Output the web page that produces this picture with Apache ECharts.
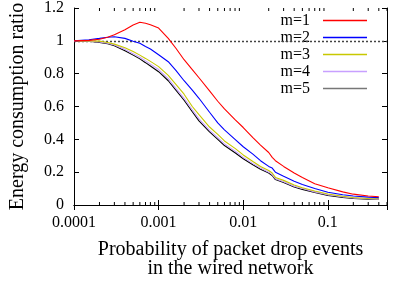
<!DOCTYPE html>
<html>
<head>
<meta charset="utf-8">
<script src="https://cdn.jsdelivr.net/npm/echarts@6/dist/echarts.min.js"></script>
<style>
	html, body { margin: 0; padding: 0; background: #fff; }
	#chart { width: 403px; height: 282px; }
</style>
</head>
<body>
<div id="chart"></div>
<script>
// drop probability (x)
var probs = [0.0001, 0.00015, 0.0002, 0.00025, 0.0003, 0.0004, 0.0005, 0.0006, 0.0007, 0.0008,
	0.001, 0.0013, 0.0016, 0.002, 0.0025, 0.003, 0.004, 0.005, 0.006, 0.008,
	0.01, 0.013, 0.016, 0.02, 0.022, 0.024, 0.03, 0.04, 0.05, 0.07,
	0.1, 0.15, 0.2, 0.3, 0.4];

var m1 = [1.0, 1.003, 1.01, 1.022, 1.037, 1.068, 1.097, 1.113, 1.107, 1.098,
	1.078, 1.015, 0.955, 0.885, 0.825, 0.775, 0.695, 0.632, 0.585, 0.52,
	0.472, 0.41, 0.365, 0.32, 0.29, 0.27, 0.235, 0.195, 0.168, 0.13,
	0.105, 0.08, 0.066, 0.055, 0.05];
var m2 = [1.0, 1.007, 1.015, 1.022, 1.025, 1.015, 0.998, 0.985, 0.965, 0.95,
	0.915, 0.873, 0.82, 0.757, 0.7, 0.65, 0.565, 0.5, 0.458, 0.4,
	0.355, 0.31, 0.27, 0.235, 0.225, 0.2, 0.175, 0.145, 0.125, 0.1,
	0.078, 0.062, 0.055, 0.048, 0.045];
var m3 = [1.0, 1.0, 0.998, 0.99, 0.98, 0.958, 0.935, 0.913, 0.893, 0.875,
	0.843, 0.79, 0.735, 0.675, 0.6, 0.55, 0.475, 0.43, 0.39, 0.345,
	0.305, 0.265, 0.235, 0.21, 0.195, 0.168, 0.15, 0.122, 0.105, 0.085,
	0.067, 0.053, 0.046, 0.04, 0.038];
var m4 = [1.0, 0.998, 0.993, 0.985, 0.975, 0.948, 0.922, 0.9, 0.878, 0.858,
	0.825, 0.77, 0.71, 0.65, 0.58, 0.525, 0.455, 0.41, 0.372, 0.328,
	0.29, 0.252, 0.225, 0.2, 0.185, 0.16, 0.142, 0.115, 0.1, 0.08,
	0.062, 0.05, 0.043, 0.038, 0.036];
var m5 = [1.0, 0.997, 0.99, 0.982, 0.97, 0.94, 0.913, 0.89, 0.867, 0.847,
	0.812, 0.757, 0.7, 0.638, 0.568, 0.512, 0.445, 0.4, 0.362, 0.318,
	0.282, 0.245, 0.218, 0.195, 0.18, 0.155, 0.137, 0.11, 0.095, 0.077,
	0.058, 0.046, 0.04, 0.036, 0.035];

var names = ['m=1', 'm=2', 'm=3', 'm=4', 'm=5'];
var colors = ['#ff0000', '#0000ff', '#c8c800', '#c8a0ff', '#000000'];
var legendColors = ['#ff0000', '#0000ff', '#c8c800', '#c8a0ff', '#777777'];

// minor ticks 2..9 x 10^k for the log axis
var minorTicks = [];
[0.0001, 0.001, 0.01, 0.1].forEach(function(d) {
	for (var k = 2; k <= 9; k++) {
		if (d * k <= 0.5) minorTicks.push(Number((d * k).toPrecision(3)));
	}
});

var font = 'Liberation Serif';

var main = {
	init: function() {
		var myChart = echarts.init(document.getElementById('chart'));
		var allData = [m1, m2, m3, m4, m5];

		var series = names.map(function(n, i) {
			return {
				name: n,
				type: 'line',
				symbol: 'none',
				lineStyle: { width: 1.1, color: colors[i] },
				itemStyle: { color: colors[i] },
				z: 10 - i,
				data: probs.map(function(p, j) { return [p, allData[i][j]]; })
			};
		});
		// dotted reference line at ratio 1
		series[0].markLine = {
			silent: true,
			symbol: 'none',
			label: { show: false },
			lineStyle: { color: '#444', type: [2, 2], width: 1.3 },
			data: [{ yAxis: 1 }]
		};
		// minor ticks (bottom + top)
		series.push({
			type: 'custom',
			silent: true,
			z: 20,
			renderItem: function(params, api) {
				var b = api.coord([api.value(0), 0]);
				var t = api.coord([api.value(0), 1.2]);
				var st = { stroke: '#000', lineWidth: 1 };
				return {
					type: 'group',
					children: [
						{ type: 'line', shape: { x1: b[0], y1: b[1], x2: b[0], y2: b[1] - 3 }, style: st },
						{ type: 'line', shape: { x1: t[0], y1: t[1], x2: t[0], y2: t[1] + 3 }, style: st }
					]
				};
			},
			data: minorTicks.map(function(v) { return [v]; })
		});

		var option = {
			animation: false,
			textStyle: { fontFamily: font },
			grid: { left: 74, right: 16, top: 8, bottom: 77, outerBoundsMode: 'none' },
			legend: {
				orient: 'vertical',
				right: 31,
				top: 7,
				align: 'right',
				icon: 'rect',
				itemWidth: 44,
				itemHeight: 1.5,
				itemGap: 0,
				data: names.map(function(n, i) {
					return { name: n, itemStyle: { color: legendColors[i] } };
				}),
				textStyle: { fontFamily: font, fontSize: 16, color: '#000', lineHeight: 17, padding: [0, 8, 0, 0] }
			},
			xAxis: [{
				type: 'log',
				logBase: 10,
				min: 0.0001,
				max: 0.5,
				name: 'Probability of packet drop events\nin the wired network',
				nameLocation: 'middle',
				nameGap: 35,
				nameTextStyle: { fontFamily: font, fontSize: 20, color: '#000', lineHeight: 19 },
				axisLine: { show: true, lineStyle: { color: '#000', width: 1 } },
				axisTick: { show: true, inside: true, length: 5, lineStyle: { color: '#000' } },
				axisLabel: {
					showMaxLabel: false,
					fontFamily: font, fontSize: 16, color: '#000', margin: 10,
					formatter: function(v) {
						var e = Math.round(Math.log10(v));
						if (Math.abs(Math.log10(v) - e) > 1e-6) return '';
						return v.toFixed(-e);
					}
				},
				splitLine: { show: false }
			}, {
				type: 'log',
				logBase: 10,
				min: 0.0001,
				max: 0.5,
				position: 'top',
				axisLine: { show: true, lineStyle: { color: '#000', width: 1 } },
				axisTick: { show: true, inside: true, length: 5, lineStyle: { color: '#000' } },
				axisLabel: { show: false },
				splitLine: { show: false }
			}],
			yAxis: [{
				type: 'value',
				min: 0,
				max: 1.2,
				interval: 0.2,
				name: 'Energy consumption ratio',
				nameLocation: 'middle',
				nameRotate: 90,
				nameGap: 46,
				nameTextStyle: { fontFamily: font, fontSize: 20, color: '#000' },
				axisLine: { show: true, lineStyle: { color: '#000', width: 1 } },
				axisTick: { show: true, inside: true, length: 5, lineStyle: { color: '#000' } },
				axisLabel: { fontFamily: font, fontSize: 16, color: '#000', margin: 10 },
				splitLine: { show: false }
			}, {
				type: 'value',
				min: 0,
				max: 1.2,
				interval: 0.2,
				position: 'right',
				axisLine: { show: true, lineStyle: { color: '#000', width: 1 } },
				axisTick: { show: true, inside: true, length: 5, lineStyle: { color: '#000' } },
				axisLabel: { show: false },
				splitLine: { show: false }
			}],
			series: series
		};
		myChart.setOption(option);
	}
};

main.init();
</script>
</body>
</html>
